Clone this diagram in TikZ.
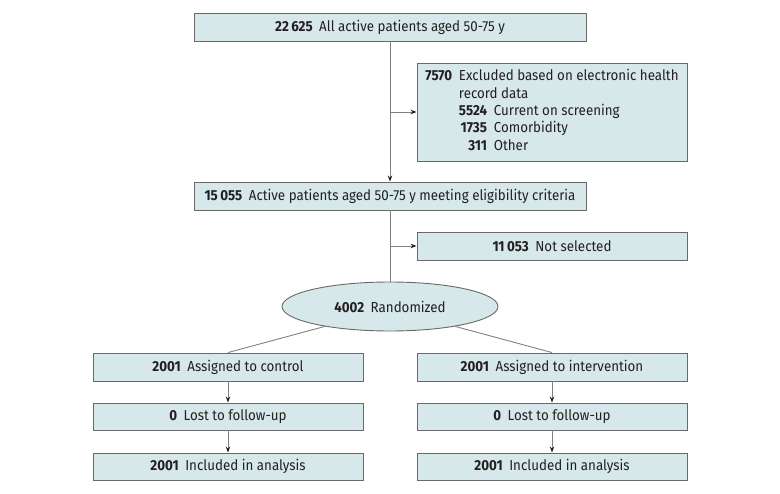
\documentclass[tikz,border=0pt]{standalone}
\usepackage{fontspec}
\setmainfont{Fira Sans}[FakeStretch=0.92]
\usetikzlibrary{shapes.geometric,arrows.meta}
\definecolor{boxfill}{RGB}{214,232,234}
\definecolor{boxline}{RGB}{105,105,105}
\definecolor{conn}{RGB}{128,128,128}
\definecolor{txt}{RGB}{35,31,32}
\newcommand{\nb}[1]{\textbf{#1}\hspace{0.45em}}
\begin{document}
\begin{tikzpicture}[x=1pt,y=-1pt,
  box/.style={draw=boxline,fill=boxfill,line width=0.9pt,rectangle,inner sep=0pt,
    minimum height=28pt,text=txt,font=\fontsize{14.5}{14}\selectfont},
  wide/.style={box,minimum width=392pt},
  half/.style={box,minimum width=270pt},
  oval/.style={draw=boxline,fill=boxfill,line width=0.9pt,ellipse,inner sep=0pt,
    minimum width=216pt,minimum height=49pt,text=txt,font=\fontsize{14.5}{14}\selectfont},
  line/.style={draw=conn,line width=0.9pt},
  arr/.style={line,-{Stealth[length=6pt,width=4.5pt,fill=txt,color=txt]}}]
\useasboundingbox (0,0) rectangle (780,494);
\node[wide] (top) at (390,27.5) {\nb{22\,625}All active patients aged 50-75 y};
\node[half,minimum height=98pt] (excl) at (552,112) {\renewcommand{\arraystretch}{1.24}\setlength{\tabcolsep}{3.4pt}%
  \begin{tabular}{@{}rrl@{}}
  \textbf{7570} & \multicolumn{2}{l@{}}{Excluded based on electronic health}\\
   & \multicolumn{2}{l@{}}{record data}\\
   & \textbf{5524} & Current on screening\\
   & \textbf{1735} & Comorbidity\\
   & \textbf{311} & Other
  \end{tabular}};
\node[wide] (elig) at (390,196) {\nb{15\,055}Active patients aged 50-75 y meeting eligibility criteria};
\node[half] (notsel) at (552,246) {\nb{11\,053}Not selected};
\node[oval] (rand) at (390,306.5) {\nb{4002}Randomized};
\node[half] (l1) at (228,367) {\nb{2001}Assigned to control};
\node[half,minimum height=27pt] (l2) at (228,416.5) {\nb{0}Lost to follow-up};
\node[half,minimum height=27pt] (l3) at (228,466.5) {\nb{2001}Included in analysis};
\node[half] (r1) at (552,367) {\nb{2001}Assigned to intervention};
\node[half,minimum height=27pt] (r2) at (552,416.5) {\nb{0}Lost to follow-up};
\node[half,minimum height=27pt] (r3) at (552,466.5) {\nb{2001}Included in analysis};
\coordinate (b1) at (390,112);
\coordinate (b2) at (390,246);
\draw[arr] (top.south) -- (elig.north);
\draw[arr] (b1) -- (excl.west);
\draw[line] (elig.south) -- (rand.north);
\draw[arr] (b2) -- (notsel.west);
\draw[line] (rand.197) -- (l1.north);
\draw[line] (rand.343) -- (r1.north);
\draw[arr] (l1.south) -- (l2.north);
\draw[arr] (l2.south) -- (l3.north);
\draw[arr] (r1.south) -- (r2.north);
\draw[arr] (r2.south) -- (r3.north);
\end{tikzpicture}
\end{document}
